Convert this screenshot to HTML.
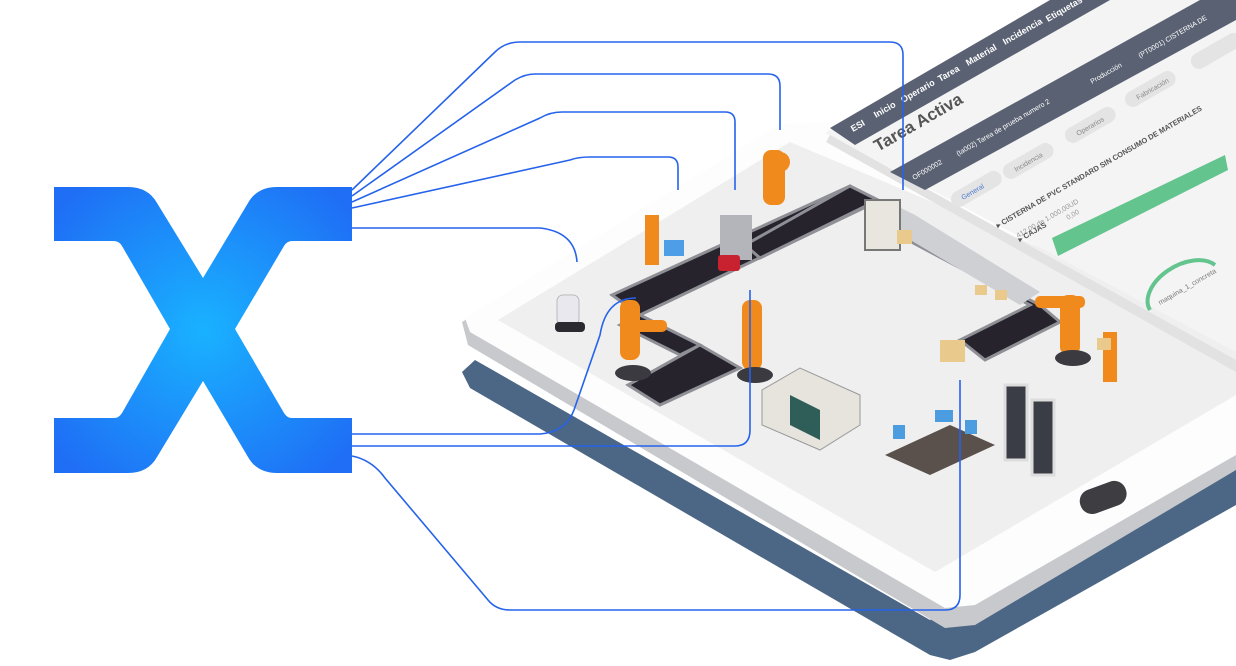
<!DOCTYPE html>
<html><head><meta charset="utf-8"><style>
html,body{margin:0;padding:0;background:#fff;}
svg{display:block;font-family:"Liberation Sans",sans-serif;}
</style></head><body>
<svg width="1236" height="666" viewBox="0 0 1236 666" xmlns="http://www.w3.org/2000/svg">
<defs>
<radialGradient id="xg" cx="203" cy="330" r="190" gradientUnits="userSpaceOnUse">
<stop offset="0" stop-color="#19b2ff"/><stop offset="1" stop-color="#1f6ef5"/>
</radialGradient>
</defs>
<!-- shadow -->
<polygon points="462,372 475,360 930,620 1236,455 1236,505 975,652 950,660 930,655 470,388" fill="#4c6686"/>
<!-- tablet edge -->
<polygon points="462,322 780,128 1236,120 1236,470 975,625 945,628 468,345" fill="#c8c9cc"/>
<!-- tablet top -->
<polygon points="465,318 780,124 1236,110 1236,455 975,605 945,608 470,332" fill="#fdfdfd"/>
<!-- floor -->
<polygon points="498,320 790,142 1236,330 1236,395 935,572" fill="#efeff0"/>
<!-- screen -->
<polygon points="825,133 1060,0 1236,0 1236,352" fill="#f4f4f5"/>
<polygon points="830,135 1236,360 1236,372 826,142" fill="#e2e2e3"/>
<!-- dark nav bar -->
<polygon points="830,128 1050,0 1110,0 855,145" fill="#5a6172"/>
<polygon points="890,172 1236,-20 1236,20 925,190" fill="#5a6172"/>
<g font-size="9" fill="#fff" font-weight="bold">
<text transform="translate(853,132) rotate(-30)">ESI</text>
<text transform="translate(876,118) rotate(-30)">Inicio</text>
<text transform="translate(903,103) rotate(-30)">Operario</text>
<text transform="translate(940,82) rotate(-30)">Tarea</text>
<text transform="translate(968,66) rotate(-30)">Material</text>
<text transform="translate(1005,45) rotate(-30)">Incidencia</text>
<text transform="translate(1048,22) rotate(-30)">Etiquetas</text>
</g>
<text transform="translate(878,152) rotate(-30)" font-size="17" fill="#555" font-weight="bold">Tarea Activa</text>
<g font-size="7" fill="#fff">
<text transform="translate(914,180) rotate(-30)">OF000002</text>
<text transform="translate(958,156) rotate(-30)">(ta002) Tarea de prueba numero 2</text>
<text transform="translate(1140,58) rotate(-30)">(PT0001) CISTERNA DE</text>
</g>
<text transform="translate(1092,84) rotate(-30)" font-size="7" fill="#fff">Producción</text>
<!-- tabs -->
<g fill="#e4e4e5">
<rect x="0" y="0" width="56" height="16" rx="8" transform="translate(948,196) rotate(-30)"/>
<rect x="0" y="0" width="56" height="16" rx="8" transform="translate(1000,168) rotate(-30)"/>
<rect x="0" y="0" width="56" height="16" rx="8" transform="translate(1062,132) rotate(-30)"/>
<rect x="0" y="0" width="56" height="16" rx="8" transform="translate(1122,96) rotate(-30)"/>
<rect x="0" y="0" width="56" height="16" rx="8" transform="translate(1188,58) rotate(-30)"/>
</g>
<g font-size="7" fill="#888">
<text transform="translate(963,200) rotate(-30)" fill="#4a7ad0">General</text>
<text transform="translate(1016,172) rotate(-30)">Incidencia</text>
<text transform="translate(1078,136) rotate(-30)">Operarios</text>
<text transform="translate(1138,100) rotate(-30)">Fabricación</text>
</g>
<text transform="translate(998,228) rotate(-30)" font-size="7.5" fill="#555" font-weight="bold">▸ CISTERNA DE PVC STANDARD SIN CONSUMO DE MATERIALES</text>
<text transform="translate(1018,238) rotate(-30)" font-size="7" fill="#999">412,00 de 1.000,00UD</text>
<text transform="translate(1020,242) rotate(-30)" font-size="7.5" fill="#555" font-weight="bold">▸ CAJAS</text>
<text transform="translate(1068,220) rotate(-30)" font-size="7" fill="#999">0,00</text>
<polygon points="1052,238 1225,155 1228,170 1058,256" fill="#63c48e"/>
<path d="M1150,310 A40,25 -30 0 1 1215,265" stroke="#63c48e" stroke-width="4" fill="none"/>
<text transform="translate(1160,305) rotate(-30)" font-size="7" fill="#777">maquina_1_concreta</text>
<!-- conveyors -->
<g fill="#26232d" stroke="#8f8f96" stroke-width="3">
<polygon points="612,295 850,186 870,205 640,315"/>
<polygon points="640,315 700,345 680,355 620,325"/>
<polygon points="700,345 740,368 660,405 628,385"/>
<polygon points="850,186 878,200 760,258 745,245"/>
<polygon points="870,220 1040,305 1060,322 985,360 960,340 1030,305"/>
</g>
<polygon points="885,200 915,215 1040,292 1020,305 885,225" fill="#cfd0d4"/>
<rect x="865" y="200" width="35" height="50" fill="#e9e6df" stroke="#777" stroke-width="2"/>
<rect x="720" y="215" width="32" height="45" fill="#b4b5ba"/>
<rect x="718" y="255" rx="3" width="22" height="16" fill="#c82230"/>
<!-- robots -->
<g fill="#f08a1c">
<rect x="763" y="150" width="22" height="55" rx="8"/><circle cx="780" cy="162" r="10"/>
<rect x="620" y="300" width="20" height="60" rx="8"/><rect x="632" y="320" width="35" height="12" rx="5"/>
<rect x="742" y="300" width="20" height="70" rx="8"/>
<rect x="1060" y="295" width="20" height="60" rx="8"/><rect x="1035" y="296" width="50" height="12" rx="5"/>
<rect x="645" y="215" width="14" height="50"/>
<rect x="1103" y="332" width="14" height="50"/>
<rect x="922" y="442" width="20" height="25"/>
</g>
<g fill="#3a3a40"><ellipse cx="633" cy="373" rx="18" ry="8"/><ellipse cx="755" cy="375" rx="18" ry="8"/><ellipse cx="1073" cy="358" rx="18" ry="8"/></g>
<!-- boxes -->
<g fill="#e9c98c"><rect x="940" y="340" width="25" height="22"/><rect x="975" y="285" width="12" height="10"/><rect x="995" y="290" width="12" height="10"/><rect x="897" y="230" width="15" height="14"/><rect x="1097" y="338" width="14" height="12"/></g>
<rect x="664" y="240" width="20" height="16" fill="#4d9ee6"/>
<!-- machines -->
<polygon points="762,390 800,368 860,395 860,425 820,450 762,425" fill="#e6e4dd" stroke="#999"/>
<polygon points="790,395 820,410 820,440 790,425" fill="#2f5e58"/>
<rect x="1005" y="385" width="22" height="75" fill="#3a3d45" stroke="#ddd" stroke-width="3"/>
<rect x="1032" y="400" width="22" height="75" fill="#3a3d45" stroke="#ddd" stroke-width="3"/>
<polygon points="885,455 950,425 995,445 930,475" fill="#5a504c"/>
<rect x="893" y="425" width="12" height="14" fill="#4b9de0"/><rect x="935" y="410" width="18" height="12" fill="#4b9de0"/><rect x="965" y="420" width="12" height="14" fill="#4b9de0"/>
<rect x="557" y="295" width="22" height="30" rx="6" fill="#e8e8ee" stroke="#bbb"/>
<rect x="555" y="322" width="30" height="10" rx="4" fill="#2a2a30"/>
<!-- home button -->
<rect x="1079" y="485" width="48" height="25" rx="12" fill="#3d3d42" transform="rotate(-20 1103 497)"/>
<!-- lines -->
<g fill="none" stroke="#2563eb" stroke-width="1.6">
<path d="M352,190 L495,52 Q505,42 520,42 L890,42 Q903,42 903,55 L903,190"/>
<path d="M352,196 L515,80 Q525,74 535,74 L768,74 Q780,74 780,86 L780,130"/>
<path d="M352,202 L540,118 Q550,112 562,112 L725,112 Q735,112 735,122 L735,190"/>
<path d="M352,208 L570,160 Q578,157 590,157 L668,157 Q678,157 678,167 L678,190"/>
<path d="M352,228 L540,228 Q575,232 577,262"/>
<path d="M352,434 L540,434 Q566,432 574,410 L600,335 Q606,298 636,298"/>
<path d="M352,446 L735,446 Q750,446 750,430 L750,290"/>
<path d="M352,456 Q372,460 385,478 L488,600 Q496,610 510,610 L945,610 Q960,610 960,595 L960,380"/>
</g>
<!-- X logo -->
<path d="M54,187 L128,187 Q148,187 157,203 L203,278 L248,203 Q257,187 277,187 L352,187 L352,241 L292,241 Q287,241 284,246 L235,329 L284,413 Q287,418 292,418 L352,418 L352,473 L277,473 Q257,473 248,457 L203,381 L157,457 Q148,473 128,473 L54,473 L54,418 L114,418 Q119,418 122,413 L170,329 L122,246 Q119,241 114,241 L54,241 Z" fill="url(#xg)"/>
</svg>
</body></html>
